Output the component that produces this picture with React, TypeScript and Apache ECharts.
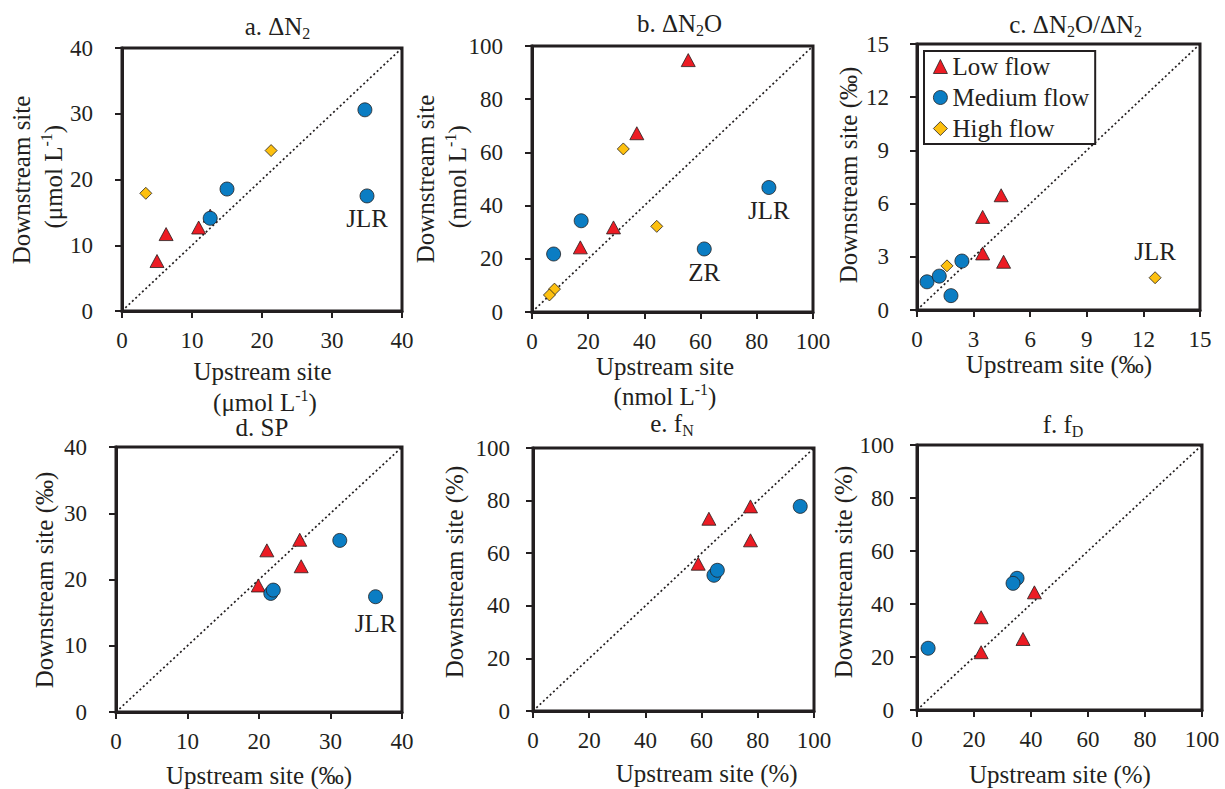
import React, { useEffect, useRef } from 'react';
import * as echarts from 'echarts';

const FF = '"Liberation Serif", "Times New Roman", serif';
const INK = '#231f20';
const RED = '#ec1c24';
const BLUE = '#0b7dc3';
const YEL = '#fdc00f';

const seriesNames = ['Low flow', 'Medium flow', 'High flow'];

// a. ΔN2 (µmol L-1)
const aLow = [[5.0, 7.6], [6.3, 11.7], [10.95, 12.7], [12.6, 14.5]];
const aMed = [[12.6, 14.1], [15.0, 18.55], [34.7, 30.6], [35.0, 17.5]];
const aHigh = [[3.4, 17.9], [21.3, 24.4]];
// b. ΔN2O (nmol L-1)
const bLow = [[55.6, 94.7], [37.3, 67.2], [29.0, 31.8], [17.2, 24.3]];
const bMed = [[7.7, 21.8], [17.5, 34.3], [61.3, 23.7], [84.3, 46.8]];
const bHigh = [[32.5, 61.3], [44.4, 32.2], [8.0, 8.6], [6.2, 6.4]];
// c. ΔN2O/ΔN2 (‰)
const cLow = [[4.46, 6.47], [3.48, 5.25], [3.48, 3.19], [4.59, 2.72]];
const cMed = [[0.53, 1.59], [1.18, 1.91], [1.8, 0.81], [2.38, 2.76]];
const cHigh = [[1.59, 2.49], [12.62, 1.82]];
// d. SP (‰)
const dLow = [[21.1, 24.4], [25.7, 26.0], [25.9, 22.0], [19.9, 19.1]];
const dMed = [[31.3, 25.9], [21.65, 17.9], [22.0, 18.4], [36.3, 17.4]];
const dHigh: number[][] = [];
// e. fN (%)
const eLow = [[62.6, 73.1], [77.4, 77.8], [77.4, 64.9], [58.8, 56.0]];
const eMed = [[95.1, 77.8], [64.4, 51.6], [65.6, 53.5]];
const eHigh: number[][] = [];
// f. fD (%)
const fLow = [[41.2, 44.4], [22.5, 35.0], [37.2, 26.8], [22.5, 21.8]];
const fMed = [[3.9, 23.3], [35.1, 49.7], [33.7, 47.8]];
const fHigh: number[][] = [];

// axis ranges
const axisMax = [40, 100, 15, 40, 100, 100];
const axisStep = [10, 20, 3, 10, 20, 20];

// site tags: [panel, set(0 low,1 med,2 high), point index, text]
const siteTags: [number, number, number, string][] = [
  [0, 1, 3, 'JLR'],
  [1, 1, 3, 'JLR'],
  [1, 1, 2, 'ZR'],
  [2, 2, 1, 'JLR'],
  [3, 1, 3, 'JLR'],
];

const panelTitles = [
  '{m|a. ΔN}{s|2}',
  '{m|b. ΔN}{s|2}{m|O}',
  '{m|c. ΔN}{s|2}{m|O/ΔN}{s|2}',
  '{m|d. SP}',
  '{m|e. f}{s|N}',
  '{m|f. f}{s|D}',
];
const xNames = [
  ['{m|Upstream site}', '{m|(μmol L}{p|-1}{m|)}'],
  ['{m|Upstream site}', '{m|(nmol L}{p|-1}{m|)}'],
  ['{m|Upstream site (‰)}'],
  ['{m|Upstream site (‰)}'],
  ['{m|Upstream site (%)}'],
  ['{m|Upstream site (%)}'],
];
const yNames = [
  ['{m|Downstream site}', '{m|(μmol L}{p|-1}{m|)}'],
  ['{m|Downstream site}', '{m|(nmol L}{p|-1}{m|)}'],
  ['{m|Downstream site (‰)}'],
  ['{m|Downstream site (‰)}'],
  ['{m|Downstream site (%)}'],
  ['{m|Downstream site (%)}'],
];

// ---- layout (positions / sizes only) ----
const grids = [
  { left: 122, top: 48, width: 280, height: 263 },
  { left: 532, top: 46, width: 281, height: 266 },
  { left: 917, top: 44, width: 283, height: 266 },
  { left: 116, top: 447, width: 286, height: 265 },
  { left: 533, top: 448, width: 281, height: 263 },
  { left: 917, top: 445, width: 285, height: 265 },
];
const yLabelMargin = [29, 29, 28, 29, 23, 23];
const titlePos = [[277.5, 26], [679.5, 23], [1075.7, 24], [262, 427], [672, 423], [1063, 424]];
const xNamePos = [
  [[262.5, 371.7], [265, 402.5]],
  [[665, 366.7], [665, 396.6]],
  [[1059, 364.7]],
  [[259, 775.8]],
  [[706.7, 773.3]],
  [[1060, 774]],
];
const yNamePos = [
  [[21.7, 180], [53, 176.7]],
  [[425, 179], [457, 176.7]],
  [[848, 175]],
  [[44, 580]],
  [[454, 572]],
  [[843, 572]],
];
const tagStyle: Record<string, { position: string; distance: number }> = {
  '0-1-3': { position: 'bottom', distance: 3 },
  '1-1-3': { position: 'bottom', distance: 3 },
  '1-1-2': { position: 'bottom', distance: 4 },
  '2-2-1': { position: 'top', distance: 7 },
  '3-1-3': { position: 'bottom', distance: 7 },
};

const panelData = [
  [aLow, aMed, aHigh],
  [bLow, bMed, bHigh],
  [cLow, cMed, cHigh],
  [dLow, dMed, dHigh],
  [eLow, eMed, eHigh],
  [fLow, fMed, fHigh],
];

const RICH = {
  m: { fontSize: 25, fontFamily: FF, fill: INK, lineHeight: 30 },
  s: { fontSize: 16, fontFamily: FF, fill: INK, verticalAlign: 'bottom' },
  p: { fontSize: 16, fontFamily: FF, fill: INK, verticalAlign: 'top' },
};

function rtext(x: number, y: number, text: string, rotation = 0) {
  return {
    type: 'text',
    x,
    y,
    rotation,
    silent: true,
    style: {
      text,
      rich: RICH,
      fontSize: 25,
      fontFamily: FF,
      fill: INK,
      align: 'center',
      verticalAlign: 'middle',
    },
  };
}

const symbols = ['triangle', 'circle', 'diamond'];
const symbolSizes: any[] = [[14, 13], 14, 12];
const colors = [RED, BLUE, YEL];

function buildOption() {
  const xAxis: any[] = [];
  const yAxis: any[] = [];
  const series: any[] = [];
  const graphic: any[] = [];
  const baseAxis = (i: number) => ({
    type: 'value',
    gridIndex: i,
    min: 0,
    max: axisMax[i],
    interval: axisStep[i],
    splitLine: { show: false },
    axisLine: { show: true, onZero: false, lineStyle: { color: INK, width: 3 } },
    axisTick: { show: true, inside: false, length: 7, lineStyle: { color: INK, width: 2 } },
  });
  grids.forEach((g, i) => {
    xAxis.push({
      ...baseAxis(i),
      axisLabel: { fontSize: 23, fontFamily: FF, color: INK, margin: 18 },
    });
    yAxis.push({
      ...baseAxis(i),
      axisLabel: { fontSize: 23, fontFamily: FF, color: INK, margin: yLabelMargin[i] },
    });
    series.push({
      type: 'line',
      name: '1:1 line',
      xAxisIndex: i,
      yAxisIndex: i,
      data: [[0, 0], [axisMax[i], axisMax[i]]],
      symbol: 'none',
      silent: true,
      z: 1,
      lineStyle: { color: INK, width: 1.7, type: [2, 2.6] },
    });
    panelData[i].forEach((pts, k) => {
      series.push({
        type: 'scatter',
        name: seriesNames[k],
        xAxisIndex: i,
        yAxisIndex: i,
        symbol: symbols[k],
        symbolSize: symbolSizes[k],
        z: 2,
        itemStyle: { color: colors[k], borderColor: INK, borderWidth: 0.8, opacity: 1 },
        data: pts.map((p, j) => {
          const tag = siteTags.find((t) => t[0] === i && t[1] === k && t[2] === j);
          if (!tag) return p;
          const st = tagStyle[`${i}-${k}-${j}`];
          return {
            value: p,
            label: {
              show: true,
              formatter: tag[3],
              position: st.position,
              distance: st.distance,
              fontSize: 25,
              fontFamily: FF,
              color: INK,
            },
          };
        }),
      });
    });
    graphic.push(rtext(titlePos[i][0], titlePos[i][1], panelTitles[i]));
    xNames[i].forEach((t, n) => graphic.push(rtext(xNamePos[i][n][0], xNamePos[i][n][1], t)));
    yNames[i].forEach((t, n) => graphic.push(rtext(yNamePos[i][n][0], yNamePos[i][n][1], t, Math.PI / 2)));
  });

  return {
    animation: false,
    backgroundColor: '#ffffff',
    grid: grids.map((g) => ({ ...g, show: true, borderColor: INK, borderWidth: 3, backgroundColor: 'transparent' })),
    xAxis,
    yAxis,
    series,
    graphic,
    legend: {
      data: seriesNames,
      orient: 'vertical',
      left: 924,
      top: 51,
      padding: [3, 6, 3, 9],
      itemGap: 6,
      itemWidth: 14,
      itemHeight: 14,
      backgroundColor: '#ffffff',
      borderColor: INK,
      borderWidth: 2,
      selectedMode: false,
      itemStyle: { borderColor: INK, borderWidth: 0.8 },
      textStyle: { fontSize: 25, fontFamily: FF, color: INK },
    },
  };
}

export default function App() {
  const ref = useRef<HTMLDivElement>(null);
  useEffect(() => {
    if (!ref.current) return;
    const chart = echarts.init(ref.current, undefined, { renderer: 'svg' });
    chart.setOption(buildOption() as any);
    return () => chart.dispose();
  }, []);
  return (
    <div
      ref={ref}
      style={{ position: 'fixed', left: 0, top: 0, width: 1225, height: 789, background: '#fff' }}
    />
  );
}
